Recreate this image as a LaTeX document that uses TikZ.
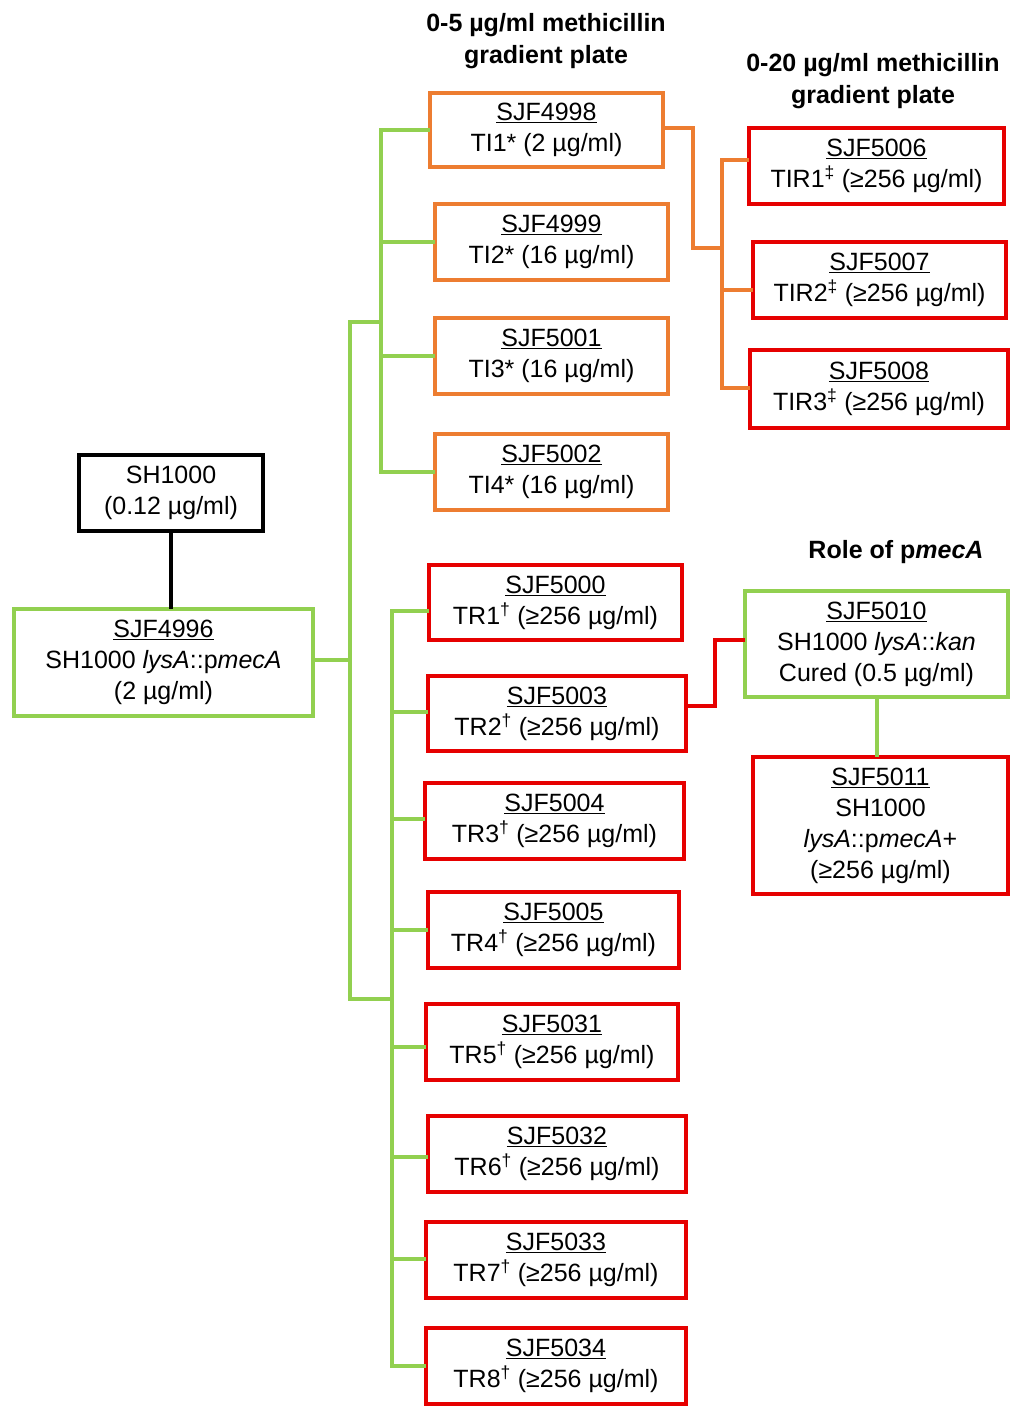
\documentclass[tikz,border=0pt]{standalone}
\usepackage{fontspec}
\setmainfont{Liberation Sans}
\usetikzlibrary{calc}
\definecolor{grn1}{RGB}{146, 208, 80}
\definecolor{org1}{RGB}{237, 125, 49}
\definecolor{red1}{RGB}{230, 0, 0}
\tikzset{
  strain/.style={rectangle, draw, line width=4pt, inner sep=0pt, align=center,
    font=\fontsize{25}{31}\selectfont, minimum height=76},
  title/.style={align=center, font=\fontsize{25}{32}\selectfont\bfseries},
  link/.style={line width=4pt, line cap=rect}
}
\begin{document}
\begin{tikzpicture}[x=1pt, y=-1pt]
  \useasboundingbox (0,0) rectangle (1012,1409);
  \node[title] (t05) at (546,41) {0-5 µg/ml methicillin\\gradient plate};
  \node[title] (t020) at (873,81.5) {0-20 µg/ml methicillin\\gradient plate};
  \node[title] (trole) at (896,552) {Role of p\textit{mecA}};
  \node[strain, draw=black, minimum width=184] (sh) at (171,493) {SH1000\\(0.12 µg/ml)};
  \node[strain, draw=grn1, minimum width=299, minimum height=107] (s4996) at (163.5,662) {\underline{SJF4996}\\SH1000 \textit{lysA}::p\textit{mecA}\\(2 µg/ml)};
  \node[strain, draw=org1, minimum width=233, minimum height=74] (s4998) at (546.5,130) {\underline{SJF4998}\\TI1* (2 µg/ml)};
  \node[strain, draw=org1, minimum width=233] (s4999) at (551.5,242) {\underline{SJF4999}\\TI2* (16 µg/ml)};
  \node[strain, draw=org1, minimum width=233] (s5001) at (551.5,356) {\underline{SJF5001}\\TI3* (16 µg/ml)};
  \node[strain, draw=org1, minimum width=233] (s5002) at (551.5,472) {\underline{SJF5002}\\TI4* (16 µg/ml)};
  \node[strain, draw=red1, minimum width=255] (s5006) at (876.5,166) {\underline{SJF5006}\\TIR1\textsuperscript{‡} (≥256 µg/ml)};
  \node[strain, draw=red1, minimum width=253] (s5007) at (879.5,280) {\underline{SJF5007}\\TIR2\textsuperscript{‡} (≥256 µg/ml)};
  \node[strain, draw=red1, minimum width=258, minimum height=78] (s5008) at (879,389) {\underline{SJF5008}\\TIR3\textsuperscript{‡} (≥256 µg/ml)};
  \node[strain, draw=red1, minimum width=253, minimum height=75] (s5000) at (555.5,602.5) {\underline{SJF5000}\\TR1\textsuperscript{†} (≥256 µg/ml)};
  \node[strain, draw=red1, minimum width=258, minimum height=75] (s5003) at (557,713.5) {\underline{SJF5003}\\TR2\textsuperscript{†} (≥256 µg/ml)};
  \node[strain, draw=red1, minimum width=259] (s5004) at (554.5,821) {\underline{SJF5004}\\TR3\textsuperscript{†} (≥256 µg/ml)};
  \node[strain, draw=red1, minimum width=251] (s5005) at (553.5,930) {\underline{SJF5005}\\TR4\textsuperscript{†} (≥256 µg/ml)};
  \node[strain, draw=red1, minimum width=252] (s5031) at (552,1042) {\underline{SJF5031}\\TR5\textsuperscript{†} (≥256 µg/ml)};
  \node[strain, draw=red1, minimum width=258] (s5032) at (557,1154) {\underline{SJF5032}\\TR6\textsuperscript{†} (≥256 µg/ml)};
  \node[strain, draw=red1, minimum width=260] (s5033) at (556,1260) {\underline{SJF5033}\\TR7\textsuperscript{†} (≥256 µg/ml)};
  \node[strain, draw=red1, minimum width=260] (s5034) at (556,1366) {\underline{SJF5034}\\TR8\textsuperscript{†} (≥256 µg/ml)};
  \node[strain, draw=grn1, minimum width=263, minimum height=106] (s5010) at (876.5,644) {\underline{SJF5010}\\SH1000 \textit{lysA}::\textit{kan}\\Cured (0.5 µg/ml)};
  \node[strain, draw=red1, minimum width=255, minimum height=137] (s5011) at (880.5,825.5) {\underline{SJF5011}\\SH1000\\\textit{lysA}::p\textit{mecA}+\\(≥256 µg/ml)};
  \coordinate (tiroot) at (350,322);
  \coordinate (trroot) at (350,999);
  \coordinate (tibus) at (381,322);
  \coordinate (trbus) at (392,999);
  \coordinate (tiknee) at (693,248);
  \coordinate (tirbus) at (722,248);
  \coordinate (cureknee) at (715,670);
  % parent strains
  \draw[link, black] (sh.south) -- (sh.south |- s4996.north);
  \draw[link, grn1] ([yshift=2pt]s4996.east) -- ([yshift=2pt]s4996.east -| tiroot);
  \draw[link, grn1] (tiroot) -- (trroot);
  \draw[link, grn1] (tiroot) -- (tibus);
  \draw[link, grn1] (trroot) -- (trbus);
  \draw[link, grn1] (s4998.west -| tibus) -- (s5002.west -| tibus);
  \draw[link, grn1] ([yshift=-8pt]s5000.west -| trbus) -- (s5034.west -| trbus);
  \foreach \to/\dy in {s4998/0, s4999/0, s5001/0, s5002/0}
   {\path ([yshift=\dy pt]\to.west) coordinate (br);
    \draw[link, grn1] (br -| tibus) -- (br);}
  \foreach \to/\dy in {s5000/-8, s5003/2, s5004/2, s5005/0, s5031/-5, s5032/-3, s5033/1, s5034/0}
   {\path ([yshift=\dy pt]\to.west) coordinate (br);
    \draw[link, grn1] (br -| trbus) -- (br);}
  % second gradient plate
  \draw[link, org1] ([yshift=2pt]s4998.east) -| (tiknee) -- (tirbus);
  \draw[link, org1] ([yshift=6pt]s5006.west -| tirbus) -- ([yshift=1pt]s5008.west -| tirbus);
  \foreach \to/\dy in {s5006/6, s5007/-10, s5008/1}
   {\path ([yshift=\dy pt]\to.west) coordinate (br);
    \draw[link, org1] (br -| tirbus) -- (br);}
  % curing
  \draw[link, red1] ([yshift=8pt]s5003.east) -| (cureknee) |- ([yshift=4pt]s5010.west);
  \draw[link, grn1] (s5010.south) -- (s5010.south |- s5011.north);
\end{tikzpicture}
\end{document}
